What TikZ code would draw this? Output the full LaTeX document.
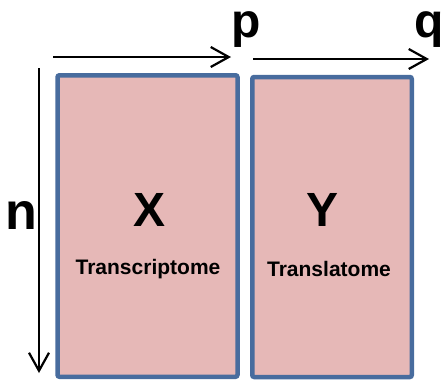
\documentclass[tikz,border=0pt]{standalone}
\usepackage{fontspec}
\setmainfont{Liberation Sans}
\usetikzlibrary{arrows.meta}
\definecolor{omicsfill}{RGB}{230,184,183}
\definecolor{omicsedge}{RGB}{72,108,158}
\begin{document}
\begin{tikzpicture}[x=1pt,y=-1pt,
  matrixbox/.style={draw=omicsedge,fill=omicsfill,line width=4.5pt,rounded corners=2pt,
    inner sep=0pt},
  dimarrow/.style={line width=2.2pt,-{Straight Barb[length=18pt,width=20pt,line width=2.2pt]}},
  dimlabel/.style={font=\fontsize{48}{48}\selectfont\bfseries,inner sep=0pt},
  bigletter/.style={font=\fontsize{48}{48}\selectfont\bfseries,inner sep=0pt},
  omicsname/.style={font=\fontsize{21}{21}\selectfont\bfseries,inner sep=0pt}]
  \useasboundingbox (0,0) rectangle (444,381);

  % the two data matrices
  \node[matrixbox,minimum width=180pt,minimum height=301.5pt] (X) at (147.5,226) {};
  \node[matrixbox,minimum width=159.5pt,minimum height=300pt] (Y) at (332,227) {};

  \node[bigletter] (xl) at (150,210) {X};
  \node[omicsname] (xn) at (148,269) {Transcriptome};
  \node[bigletter] (yl) at (323,210) {Y};
  \node[omicsname] (yn) at (329,269) {Translatome};

  % dimension arrows
  \coordinate (pa) at (53,57);
  \coordinate (pb) at (231,57);
  \coordinate (qa) at (253,59);
  \coordinate (qb) at (429,59);
  \coordinate (na) at (39,68);
  \coordinate (nb) at (39,373);
  \draw[dimarrow] (pa) -- (pb);
  \draw[dimarrow] (qa) -- (qb);
  \draw[dimarrow] (na) -- (nb);

  \node[dimlabel] (p) at (246,30) {p};
  \node[dimlabel] (q) at (429,30) {q};
  \node[dimlabel,font=\fontsize{52}{52}\selectfont\bfseries] (n) at (21,215) {n};
\end{tikzpicture}
\end{document}
